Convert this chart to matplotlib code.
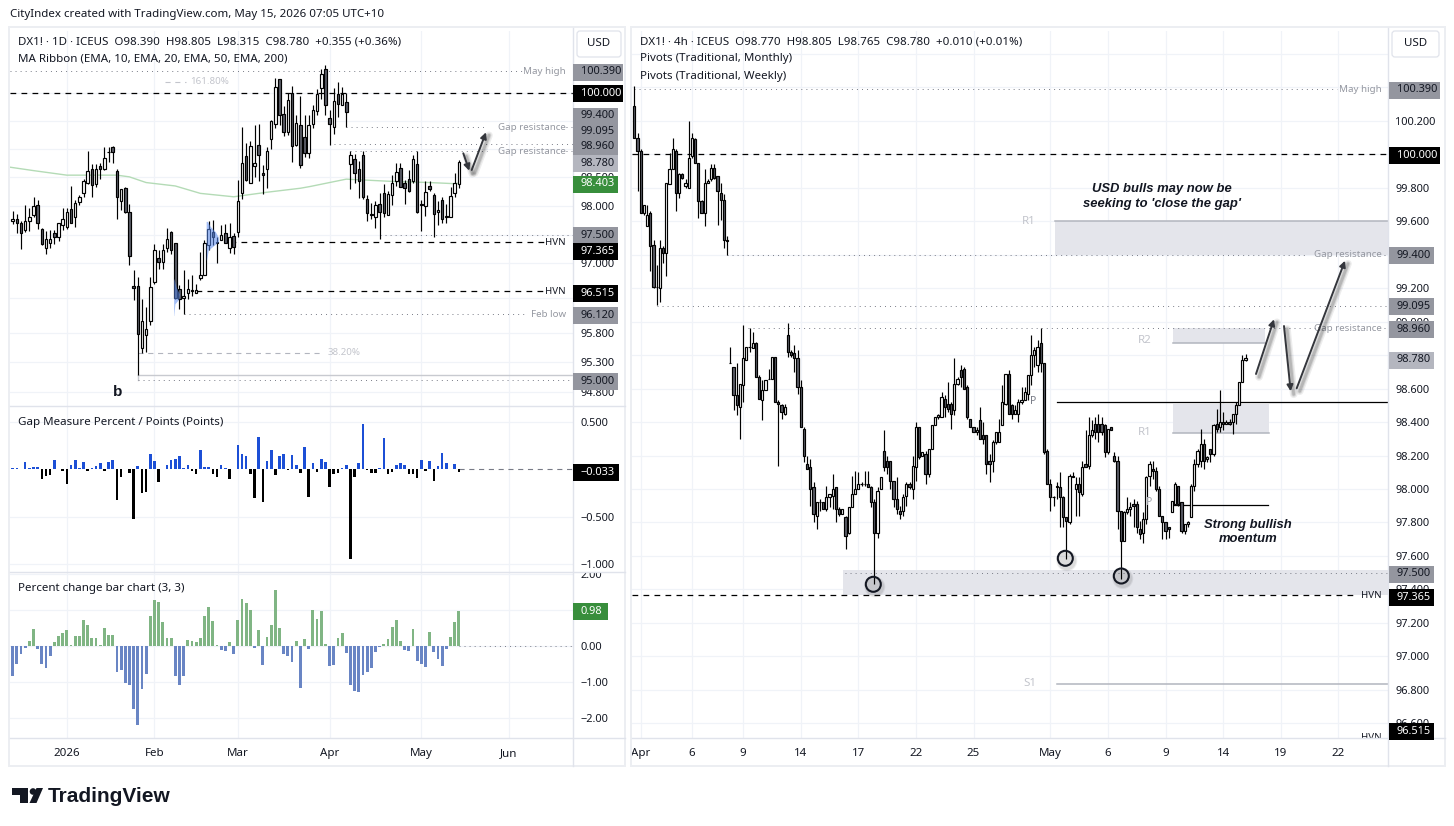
import matplotlib
matplotlib.use("Agg")
import matplotlib.pyplot as plt
import numpy as np
from matplotlib.patches import Rectangle, FancyBboxPatch, Circle, Polygon
from matplotlib.ticker import NullLocator, NullFormatter

plt.rcParams["font.family"] = ["Noto Sans", "DejaVu Sans"]

W, H = 1454, 826
TXT = "#131722"
GRID = "#f0f3f8"
BORDER = "#e0e3eb"
ANNOT = "#9598a1"
FS_LEGEND = 8.3
FS_AXIS = 7.9
FS_NOTE = 7.0

# daily candles
d_open = [97.73,97.77,97.70,97.58,97.74,97.84,98.01,97.60,97.27,97.36,
    97.52,97.46,97.67,97.64,97.94,97.80,98.06,98.23,98.41,98.64,
    98.39,98.71,98.64,98.94,99.03,98.62,98.09,98.31,97.89,96.61,
    96.61,95.54,95.76,96.01,96.67,97.10,97.03,97.26,97.54,97.35,
    96.56,96.41,96.48,96.53,96.49,96.75,96.80,97.32,97.54,97.37,
    97.41,97.52,97.26,97.48,97.55,98.23,98.88,98.41,98.71,99.07,
    98.57,98.64,99.17,99.44,100.24,99.62,99.31,100.00,99.07,99.42,
    99.22,98.93,99.44,99.68,100.08,100.43,99.55,99.40,99.98,99.79,
    99.83,98.73,98.83,98.64,98.90,98.13,97.86,97.80,98.03,98.22,
    97.85,98.19,98.44,98.66,98.40,98.47,98.43,98.73,98.03,97.99,
    98.35,98.19,97.89,98.10,97.80,97.81,98.22,98.39]
d_high = [97.91,97.86,97.74,98.02,97.96,98.16,98.10,97.61,97.57,97.58,
    97.58,97.71,97.96,97.96,98.35,98.10,98.20,98.48,98.96,98.73,
    98.73,98.76,99.03,99.03,99.05,98.64,98.30,98.34,98.03,96.89,
    96.77,96.39,96.25,96.77,97.33,97.23,97.33,97.62,97.56,97.36,
    96.63,96.89,96.73,96.79,96.65,97.19,97.41,97.73,97.76,97.46,
    97.67,97.68,97.70,97.52,98.46,99.39,99.11,99.15,99.43,99.45,
    98.72,99.03,99.51,100.26,100.25,99.76,100.00,100.13,99.60,99.94,
    99.60,99.60,99.78,100.06,100.42,100.50,99.69,100.08,100.19,100.11,
    100.00,98.97,98.92,98.79,98.97,98.19,98.05,98.09,98.22,98.38,
    98.26,98.54,98.76,98.75,98.45,98.63,98.90,98.96,98.10,98.43,
    98.43,98.22,98.08,98.16,98.03,98.34,98.57,98.805]
d_low = [97.69,97.52,97.25,97.55,97.57,97.81,97.60,97.32,97.17,97.26,
    97.34,97.39,97.58,97.60,97.70,97.64,98.01,98.16,98.38,98.16,
    98.34,98.48,98.63,98.78,98.75,97.78,97.93,97.87,96.98,96.36,
    95.08,95.46,95.48,95.93,96.64,96.91,96.91,97.20,97.17,96.39,
    96.22,96.12,96.38,96.43,96.49,96.71,96.80,97.23,97.31,97.01,
    97.41,97.36,97.18,97.17,97.46,98.13,98.43,98.40,98.50,98.44,
    98.21,98.31,99.00,99.37,99.43,99.23,99.25,98.77,99.05,98.66,
    98.86,98.85,99.37,99.60,99.89,99.60,99.08,99.26,99.57,99.79,
    99.39,98.29,98.40,98.14,98.13,97.74,97.77,97.62,97.42,97.81,
    97.84,98.02,98.35,98.33,98.03,98.25,98.41,97.87,97.57,97.83,
    98.27,97.46,97.67,97.71,97.71,97.81,98.16,98.315]
d_close = [97.77,97.70,97.52,97.73,97.81,97.99,97.70,97.34,97.42,97.43,
    97.46,97.70,97.78,97.89,97.71,98.05,98.15,98.44,98.62,98.36,
    98.65,98.64,98.85,98.95,98.94,98.16,98.29,97.90,97.13,96.58,
    95.78,96.00,95.87,96.59,97.23,97.03,97.23,97.43,97.23,96.41,
    96.39,96.44,96.56,96.54,96.54,96.79,97.35,97.59,97.46,97.36,
    97.50,97.36,97.46,97.29,98.08,98.75,98.45,99.05,98.75,98.90,
    98.55,98.96,99.50,100.10,99.60,99.31,99.87,99.05,99.46,98.72,
    98.93,99.42,99.70,99.98,100.34,99.78,99.44,99.85,99.80,99.98,
    99.66,98.90,98.57,98.43,98.15,97.88,97.84,98.02,97.89,97.87,
    98.21,98.41,98.59,98.34,98.31,98.27,98.82,97.90,98.01,98.25,
    98.29,97.86,97.93,97.77,97.83,98.17,98.41,98.78]

# 200 EMA, read at a few bars
ema_idx = [-0.6,5,13,25,28,32,39,45,53,61,69,71.3,80,91,100,106,107]
ema_val = [98.68,98.62,98.54,98.54,98.51,98.41,98.35,98.22,98.16,98.24,98.31,98.34,98.47,98.43,98.41,98.39,98.40]

gap_pts = [0.015,0.015,0.005,0.08,0.015,0.025,0.025,-0.10,-0.07,-0.055,
    0.10,0.005,-0.015,-0.15,0.05,0.10,0.015,0.08,-0.015,0.015,
    0.035,0.065,-0.015,0.08,0.10,-0.32,-0.08,0.003,-0.035,-0.52,
    0.035,-0.25,-0.235,0.16,0.09,-0.13,0.005,0.045,0.10,0.105,
    0.14,0.015,0.045,-0.015,-0.045,0.205,0.025,0.025,-0.05,-0.08,
    0.045,0.015,-0.10,0.005,0.255,0.16,0.14,-0.05,-0.30,0.34,
    -0.34,0.09,0.205,-0.055,0.14,0.16,-0.012,0.15,0.045,-0.035,
    0.235,-0.29,0.065,-0.025,0.11,0.08,-0.19,-0.045,-0.035,0.015,
    0.045,-0.945,-0.08,0.065,0.48,-0.012,-0.035,-0.035,0.015,0.33,
    -0.045,-0.025,0.045,0.065,0.045,-0.045,-0.045,-0.09,0.10,-0.015,
    0.09,-0.12,0.035,0.17,0.065,0.003,0.055,-0.033]

pct_chg = [-0.84,-0.49,-0.21,-0.05,0.15,0.48,-0.07,-0.49,-0.60,-0.26,
    0.12,0.29,0.37,0.45,0.04,0.29,0.29,0.73,0.59,0.23,
    0.23,0.04,0.51,0.31,0.31,-0.71,-0.66,-1.03,-1.07,-1.74,
    -2.18,-1.18,-0.77,0.84,1.29,1.23,0.68,0.23,0.23,-0.82,
    -1.07,-0.82,0.18,0.15,0.12,0.23,0.84,1.09,0.70,0.04,
    -0.10,-0.13,0.12,-0.21,0.73,1.31,1.20,1.01,-0.05,0.45,
    -0.52,0.26,0.59,1.56,0.51,-0.21,-0.27,-0.44,0.15,-1.16,
    0.20,-0.07,1.01,0.76,0.98,0.06,-0.55,-0.52,0.23,0.37,
    -0.19,-1.07,-1.24,-1.27,-0.80,-0.71,-0.60,-0.16,-0.02,0.06,
    0.20,0.54,0.73,0.15,-0.10,-0.13,0.48,-0.41,-0.49,-0.57,
    0.40,-0.16,-0.35,-0.55,-0.07,0.26,0.68,0.98]

# 4h candles
h_open = [100.29,100.10,100.02,99.65,99.57,99.65,99.46,99.21,99.20,99.44,
    99.41,99.82,99.91,100.02,99.77,99.88,99.81,99.80,99.99,100.09,
    99.95,99.72,99.65,99.83,99.85,99.92,99.87,99.77,99.73,99.49,
    98.75,98.73,98.56,98.49,98.62,98.77,98.85,98.84,98.87,98.67,
    98.53,98.59,98.66,98.66,98.79,98.52,98.50,98.45,98.92,98.82,
    98.81,98.78,98.61,98.36,98.15,98.13,98.01,97.84,97.92,97.92,
    97.88,97.95,97.96,98.01,97.88,97.85,97.83,97.74,97.89,97.97,
    98.00,98.03,98.03,98.03,98.01,97.92,97.74,98.00,98.23,98.17,
    98.17,98.05,97.94,97.87,97.87,97.96,98.03,98.00,98.13,98.37,
    98.20,98.21,98.09,98.24,98.38,98.43,98.43,98.54,98.51,98.51,
    98.47,98.63,98.71,98.72,98.61,98.42,98.37,98.34,98.41,98.32,
    98.32,98.17,98.17,98.28,98.28,98.38,98.51,98.69,98.50,98.45,
    98.45,98.52,98.53,98.57,98.68,98.80,98.74,98.87,98.75,98.23,
    98.03,97.95,98.02,98.01,97.95,97.83,97.80,98.08,98.00,98.03,
    97.97,98.15,98.14,98.32,98.39,98.39,98.39,98.38,98.22,98.37,
    98.20,98.17,97.87,97.69,97.86,97.88,97.91,97.91,97.76,97.74,
    97.82,98.08,98.12,98.11,98.00,97.84,97.80,97.77,97.86,97.91,
    98.02,97.92,97.75,97.79,97.83,98.02,98.15,98.17,98.27,98.18,
    98.24,98.21,98.39,98.37,98.40,98.39,98.40,98.40,98.45,98.50,
    98.64,98.77]
h_high = [100.41,100.13,100.03,99.70,99.70,99.66,99.49,99.34,99.49,99.45,
    99.83,100.01,100.10,100.03,99.89,99.89,99.85,100.20,100.13,100.10,
    99.95,99.73,99.91,99.85,99.94,99.94,99.87,99.83,99.76,99.51,
    98.85,98.73,98.75,98.63,98.98,98.85,98.96,98.94,98.88,98.68,
    98.65,98.65,98.72,98.79,98.79,98.53,98.51,98.51,98.99,98.83,
    98.86,98.83,98.65,98.37,98.20,98.18,98.04,97.92,97.94,97.92,
    98.02,97.97,98.09,98.01,97.89,97.88,97.84,97.89,98.08,98.11,
    98.10,98.04,98.11,98.11,98.02,97.94,98.01,98.07,98.35,98.20,
    98.17,98.05,98.07,97.90,97.97,98.04,98.04,98.20,98.40,98.37,
    98.22,98.23,98.24,98.38,98.43,98.45,98.58,98.56,98.64,98.52,
    98.78,98.67,98.74,98.73,98.62,98.42,98.37,98.37,98.49,98.40,
    98.32,98.21,98.29,98.34,98.42,98.62,98.69,98.71,98.51,98.50,
    98.54,98.61,98.61,98.68,98.92,98.85,98.89,98.96,98.75,98.24,
    98.06,97.96,98.04,98.10,97.96,97.83,98.09,98.10,98.07,98.07,
    98.17,98.35,98.43,98.41,98.43,98.45,98.43,98.39,98.36,98.37,
    98.22,98.20,97.87,97.87,97.95,97.92,97.94,97.93,97.81,97.86,
    98.08,98.17,98.17,98.13,98.02,97.84,97.80,97.77,97.93,98.04,
    98.02,97.92,97.79,97.81,98.03,98.18,98.24,98.36,98.30,98.20,
    98.24,98.39,98.48,98.59,98.46,98.41,98.42,98.45,98.52,98.64,
    98.80,98.805]
h_low = [100.10,99.78,99.65,99.64,99.57,99.30,99.20,99.10,99.12,99.35,
    99.27,99.82,99.91,99.66,99.74,99.85,99.80,99.80,99.98,99.95,
    99.62,99.65,99.57,99.83,99.84,99.85,99.58,99.61,99.44,99.40,
    98.75,98.47,98.44,98.30,98.52,98.77,98.82,98.84,98.67,98.54,
    98.41,98.59,98.66,98.66,98.52,98.14,98.42,98.44,98.79,98.79,
    98.70,98.57,98.37,98.16,98.12,97.90,97.80,97.76,97.87,97.88,
    97.87,97.89,97.88,97.80,97.84,97.85,97.64,97.73,97.89,97.97,
    98.00,98.02,98.02,98.01,97.89,97.43,97.71,98.00,98.11,98.09,
    98.00,97.89,97.85,97.82,97.84,97.90,98.00,97.94,98.05,98.18,
    98.20,98.03,98.07,98.24,98.38,98.42,98.43,98.43,98.46,98.36,
    98.44,98.62,98.61,98.60,98.42,98.37,98.34,98.32,98.30,98.27,
    98.09,98.04,98.10,98.27,98.28,98.38,98.50,98.45,98.42,98.45,
    98.40,98.51,98.53,98.53,98.62,98.73,98.70,98.70,98.21,98.03,
    97.87,97.90,97.94,97.77,97.77,97.58,97.79,98.07,97.84,97.84,
    97.96,98.13,98.12,98.31,98.30,98.28,98.32,98.19,98.21,98.35,
    98.16,97.76,97.46,97.69,97.85,97.84,97.77,97.74,97.70,97.68,
    97.79,98.02,98.06,97.99,97.84,97.70,97.70,97.71,97.86,97.91,
    97.90,97.74,97.73,97.77,97.83,97.99,98.13,98.13,98.12,98.16,
    98.16,98.20,98.34,98.34,98.35,98.39,98.38,98.33,98.39,98.50,
    98.64,98.765]
h_close = [100.10,100.02,99.65,99.70,99.64,99.45,99.21,99.21,99.44,99.41,
    99.83,99.91,100.03,99.77,99.88,99.86,99.83,99.98,100.10,99.95,
    99.72,99.65,99.83,99.84,99.92,99.86,99.78,99.73,99.49,99.48,
    98.75,98.56,98.50,98.63,98.78,98.85,98.85,98.87,98.67,98.54,
    98.59,98.65,98.66,98.79,98.52,98.51,98.46,98.49,98.82,98.80,
    98.78,98.61,98.37,98.20,98.12,98.00,97.85,97.92,97.92,97.88,
    97.95,97.97,98.00,97.88,97.85,97.88,97.72,97.89,97.97,98.00,
    98.03,98.03,98.03,98.01,97.92,97.74,97.99,98.07,98.13,98.13,
    98.05,97.94,97.88,97.85,97.95,98.03,98.01,98.14,98.37,98.19,
    98.22,98.09,98.24,98.38,98.43,98.44,98.55,98.49,98.48,98.45,
    98.63,98.66,98.67,98.60,98.43,98.37,98.34,98.35,98.30,98.30,
    98.15,98.15,98.28,98.34,98.34,98.52,98.69,98.45,98.45,98.47,
    98.52,98.53,98.58,98.68,98.80,98.83,98.85,98.75,98.22,98.03,
    97.95,97.95,98.01,97.95,97.83,97.81,98.08,98.07,98.03,97.98,
    98.13,98.13,98.32,98.35,98.34,98.34,98.34,98.22,98.36,98.35,
    98.17,97.87,97.69,97.86,97.88,97.89,97.90,97.77,97.73,97.82,
    98.07,98.15,98.11,98.00,97.84,97.80,97.75,97.76,97.93,98.03,
    97.91,97.75,97.79,97.80,98.02,98.15,98.23,98.27,98.17,98.19,
    98.21,98.38,98.36,98.40,98.39,98.40,98.39,98.45,98.50,98.64,
    98.77,98.78]

# volume profile blobs on the daily chart
vp1_price = [96.73,96.59,96.47,96.38,96.30,96.10]
vp1_width = [0.1,0.6,1.4,1.2,0.3,0.05]
vp2_price = [97.73,97.64,97.55,97.46,97.38,97.32,97.23,97.06]
vp2_width = [0.3,1.0,2.2,2.9,3.0,2.0,0.5,0.1]

# axis ticks, labels left blank sit fully under a price tag
d_ticks = [100.0,99.5,99.0,98.5,98.0,97.5,97.0,96.4,95.8,95.3,94.8]
d_tick_labels = ["","","","98.500","98.000","","97.000","96.400","95.800","95.300","94.800"]
gap_ticks = [0.5,-0.5,-1.0]
gap_labels = ["0.500","\u22120.500","\u22121.000"]
pct_ticks = [2,1,0,-1,-2]
pct_labels = ["2.00","","0.00","\u22121.00","\u22122.00"]
h_ticks = [100.6,100.4,100.2,100.0,99.8,99.6,99.4,99.2,99.0,98.8,98.6,98.4,98.2,98.0,97.8,97.6,97.4,97.2,97.0,96.8,96.6]
h_tick_labels = ["","","100.200","","99.800","99.600","","99.200","99.000","","98.600","98.400","98.200","98.000","97.800","97.600","97.400","97.200","97.000","96.800","96.600"]
d_month_pos = [13,34,54,76,98,119]
d_month_lab = ["2026","Feb","Mar","Apr","May","Jun"]
h_date_pos = [2,18,34,52,70,88,106,130,148,166,184,202,220]
h_date_lab = ["Apr","6","9","14","17","22","25","May","6","9","14","19","22"]


def make_ax(x0, x1, y0, y1):
    ax = fig.add_axes([x0 / W, 1 - y1 / H, (x1 - x0) / W, (y1 - y0) / H])
    for s in ax.spines.values():
        s.set_visible(False)
    ax.set_axisbelow(True)
    ax.grid(True, color=GRID, lw=0.9)
    ax.yaxis.tick_right()
    ax.tick_params(length=0, labelsize=FS_AXIS, labelcolor=TXT, pad=5)
    ax.tick_params(axis="y", pad=5.2)
    return ax


def candles(ax, o, h, l, c, width):
    x = np.arange(len(o))
    o, h, l, c = map(np.array, (o, h, l, c))
    ax.vlines(x, l, h, color="black", lw=0.85, zorder=3)
    up = c >= o
    ax.bar(x[up], (c - o)[up], bottom=o[up], width=width, color="white", edgecolor="black", lw=0.85, zorder=4)
    ax.bar(x[~up], (c - o)[~up], bottom=o[~up], width=width, color="#5b5d67", edgecolor="black", lw=0.85, zorder=4)


def dashed(ax, x0, x1, p, color="black", lw=0.9):
    ax.plot([x0, x1], [p, p], color=color, lw=lw, ls=(0, (4.6, 4.2)), zorder=2)


def dotted(ax, x0, x1, p, color="#787b86"):
    ax.plot([x0, x1], [p, p], color=color, lw=0.7, ls=(0, (1, 4.2)), zorder=2)


def tag(x0, y, label, bg, fg, w=46):
    ov.add_patch(Rectangle((x0, y - 8.5), w, 17, color=bg, lw=0, zorder=5))
    ov.text(x0 + 7.5, y, label, color=fg, fontsize=FS_AXIS, ha="left", va="center", zorder=6)


def arrow(x0, y0, x1, y1):
    for lw, a in [(5.5, 0.07), (3.5, 0.1), (2, 0.14)]:
        ov.plot([x0 + 3, x1 + 3], [y0 + 3, y1 + 3], color="black", lw=lw, alpha=a, solid_capstyle="round", zorder=3)
    ov.annotate("", xy=(x1, y1), xytext=(x0, y0),
                arrowprops=dict(arrowstyle="-|>", color="#34363c", lw=1.4, mutation_scale=9, shrinkA=0, shrinkB=0), zorder=4)


def ring(x, y):
    for r, a in [(10.5, 0.06), (9.5, 0.08)]:
        ov.add_patch(Circle((x + 1.5, y + 2.5), r, color="black", alpha=a, lw=0, zorder=3))
    ov.add_patch(Circle((x, y), 7.5, fill=False, edgecolor="#131722", lw=1.5, zorder=4))


lx = lambda px: (px - 12.67) / 4.17
rx = lambda px: (px - 634.3) / 3.2

fig = plt.figure(figsize=(W / 100, H / 100), dpi=100, facecolor="white")

# overlay in pixels for price tags, frames and drawings
ov = fig.add_axes([0, 0, 1, 1], zorder=10)
ov.set_xlim(0, W)
ov.set_ylim(H, 0)
ov.axis("off")
ov.patch.set_alpha(0)

# ---- left chart: price pane
a1 = make_ax(10, 573, 31, 406)
a1.set_yscale("log")
a1.set_xlim(lx(10), lx(573))
a1.set_ylim(94.56, 101.11)
a1.yaxis.set_minor_locator(NullLocator())
a1.yaxis.set_minor_formatter(NullFormatter())
a1.set_yticks(d_ticks, d_tick_labels, ha="left")
a1.set_xticks(d_month_pos, [""] * len(d_month_pos))

dotted(a1, lx(10), lx(522), 100.39)
dashed(a1, lx(10), lx(573), 100.0)
dotted(a1, 80, lx(486), 99.39)
dotted(a1, lx(566), lx(573), 99.39)
dotted(a1, 77, lx(573), 99.095)
dotted(a1, 81, lx(487), 98.96)
dotted(a1, lx(566), lx(573), 98.96)
dotted(a1, 88, lx(573), 97.5)
dashed(a1, 52, lx(547), 97.365)
dashed(a1, 44, lx(547), 96.515)
dotted(a1, 41, lx(524), 96.12)
dashed(a1, 30, lx(322), 95.46, color="#b2b5be", lw=0.8)
dashed(a1, lx(165), lx(186), 100.2, color="#c3c5cc", lw=0.8)
a1.plot([30, lx(573)], [95.08, 95.08], color="#c8cad0", lw=1.0, zorder=2)
a1.plot([30, 30], [95.0, 95.08], color="#c8cad0", lw=1.0, zorder=2)
dotted(a1, 30, lx(573), 95.0)
a1.plot(ema_idx, ema_val, color="#b4dbb6", lw=1.0, zorder=2)
candles(a1, d_open, d_high, d_low, d_close, 0.6)
a1.fill_betweenx(vp1_price, 38.6, 38.6 + np.array(vp1_width), color="#5b8cf0", alpha=0.55, lw=0, zorder=5)
a1.fill_betweenx(vp2_price, 46.4, 46.4 + np.array(vp2_width), color="#5b8cf0", alpha=0.55, lw=0, zorder=5)

for p, s, c in [(100.39, "May high", ANNOT), (99.39, "Gap resistance", ANNOT), (98.96, "Gap resistance", ANNOT),
                (97.365, "HVN", TXT), (96.515, "HVN", TXT), (96.12, "Feb low", ANNOT)]:
    a1.text(lx(566), p, s, color=c, fontsize=FS_NOTE, ha="right", va="center", zorder=6)
a1.text(lx(328), 95.46, "38.20%", color="#c3c5cc", fontsize=FS_NOTE, va="center")
a1.text(lx(190), 100.2, "161.80%", color="#c3c5cc", fontsize=FS_NOTE, va="center")
a1.text(lx(118), 94.80, "b", color=TXT, family="Liberation Sans", fontsize=11, fontweight="bold", ha="center", va="center")

# ---- left chart: gap pane
a2 = make_ax(10, 573, 406, 572)
a2.set_xlim(lx(10), lx(573))
a2.set_ylim(-1.084, 0.668)
gap = np.array(gap_pts)
a2.bar(np.arange(len(gap)), gap, width=0.62, color=np.where(gap >= 0, "#1c4fd6", "black"), lw=0, zorder=3)
dashed(a2, 107, lx(573), 0.0, color="#787b86", lw=0.8)
a2.set_yticks(gap_ticks, gap_labels, ha="left")
a2.set_xticks(d_month_pos, [""] * len(d_month_pos))

# ---- left chart: percent change pane
a3 = make_ax(10, 573, 572, 738)
a3.set_xlim(lx(10), lx(573))
a3.set_ylim(-2.55, 2.06)
pct = np.array(pct_chg)
a3.bar(np.arange(len(pct)), pct, width=0.68, color=np.where(pct >= 0, "#80b584", "#6985c4"), lw=0, zorder=3)
dotted(a3, 107, lx(573), 0.0)
a3.set_yticks(pct_ticks, pct_labels, ha="left")
a3.set_xticks(d_month_pos, d_month_lab)
a3.tick_params(axis="x", pad=7.5, labelsize=FS_LEGEND)

# ---- right chart
b1 = make_ax(632, 1388, 31, 738)
b1.set_xlim(rx(632), rx(1388))
b1.set_ylim(96.512, 100.737)
b1.set_yticks(h_ticks, h_tick_labels, ha="left")
b1.set_xticks(h_date_pos, h_date_lab)
b1.tick_params(axis="x", pad=7.5, labelsize=FS_LEGEND)

# pivot zones
b1.fill_between([rx(1055), rx(1388)], 99.4, 99.6, color="#e4e5eb", lw=0, zorder=1)
b1.plot([rx(1055), rx(1388)], [99.6, 99.6], color="#b2b5be", lw=1.1, zorder=2)
b1.fill_between([rx(1173), rx(1265)], 98.875, 98.96, color="#e4e5eb", lw=0, zorder=1)
b1.plot([rx(1173), rx(1265)], [98.875, 98.875], color="#b2b5be", lw=1.1, zorder=2)
b1.fill_between([rx(1173), rx(1269)], 98.335, 98.51, color="#e4e5eb", lw=0, zorder=1)
b1.plot([rx(1173), rx(1269)], [98.335, 98.335], color="#b2b5be", lw=1.1, zorder=2)
b1.fill_between([rx(843), rx(1388)], 97.365, 97.516, color="#e4e5eb", lw=0, zorder=1)
b1.plot([rx(1057), rx(1388)], [98.517, 98.517], color="black", lw=0.9, zorder=2)
b1.plot([rx(1173), rx(1268)], [97.905, 97.905], color="black", lw=0.9, zorder=2)
b1.plot([rx(1057), rx(1388)], [96.837, 96.837], color="#b2b5be", lw=1.1, zorder=2)

dotted(b1, rx(634), rx(1337), 100.39)
dashed(b1, rx(632), rx(1388), 100.0)
dotted(b1, 29, rx(1308), 99.4)
dotted(b1, rx(1384), rx(1388), 99.4)
dotted(b1, rx(657), rx(1388), 99.095)
dotted(b1, rx(748), rx(1316), 98.96)
dotted(b1, rx(1384), rx(1388), 98.96)
dotted(b1, rx(845), rx(1388), 97.5)
dashed(b1, rx(632), rx(1358), 97.365)
candles(b1, h_open, h_high, h_low, h_close, 0.66)

for p, s, c in [(100.39, "May high", ANNOT), (99.4, "Gap resistance", ANNOT), (98.96, "Gap resistance", ANNOT),
                (97.365, "HVN", TXT), (96.515, "HVN", TXT)]:
    b1.text(rx(1382), p, s, color=c, fontsize=FS_NOTE, ha="right", va="center", zorder=6, clip_on=True)
for p, px, s in [(99.6, 1029, "R1"), (98.89, 1145, "R2"), (98.34, 1145, "R1"), (96.84, 1030, "S1")]:
    b1.text(rx(px), p, s, color="#c3c5cc", fontsize=FS_LEGEND, ha="center", va="center", zorder=6)
b1.text(rx(1033), 98.52, "P", color="#787b86", fontsize=7.5, ha="center", va="center", zorder=6)
b1.text(rx(1149), 97.92, "P", color="#a0a3ab", fontsize=7.5, ha="center", va="center", zorder=6)

# ---- frames
for x0, x1 in [(9, 625), (631, 1445)]:
    ov.add_patch(Rectangle((x0, 27), x1 - x0, 739, fill=False, edgecolor="#eceef2", lw=1.4, zorder=1))
ov.add_patch(Rectangle((574, 569.5), 50, 2.5, color="white", lw=0, zorder=2))
for y in [406, 572, 738]:
    ov.plot([10, 625], [y, y], color=BORDER, lw=1.0, zorder=2)
ov.plot([573, 573], [28, 766], color=BORDER, lw=1.0, zorder=2)
ov.plot([1388, 1388], [28, 766], color=BORDER, lw=1.0, zorder=2)
ov.plot([632, 1445], [738, 738], color=BORDER, lw=1.0, zorder=2)

# ---- price tags
GREY = "#94969f"
LIGHT = "#b4b6bf"
for y, s, bg, fg, w in [(72, "100.390", GREY, TXT, 50), (93, "100.000", "black", "white", 50),
                        (116, "99.400", GREY, TXT, 45), (131.5, "99.095", GREY, TXT, 45), (146.5, "98.960", GREY, TXT, 45),
                        (163, "98.780", LIGHT, TXT, 45), (184, "98.403", "#388e3c", "white", 45),
                        (235.5, "97.500", GREY, TXT, 45), (251.5, "97.365", "black", "white", 45),
                        (293, "96.515", "black", "white", 45), (315.5, "96.120", GREY, TXT, 45),
                        (381.5, "95.000", GREY, TXT, 45)]:
    tag(573, y, s, bg, fg, w)
tag(573, 472.7, "\u22120.033", "black", "white", 46)
tag(573, 611.7, "0.98", "#388e3c", "white", 35)
for y, s, bg, fg, w in [(90, "100.390", GREY, TXT, 51), (155, "100.000", "black", "white", 51),
                        (255.7, "99.400", GREY, TXT, 45), (306.7, "99.095", GREY, TXT, 45), (329, "98.960", GREY, TXT, 45),
                        (360, "98.780", LIGHT, TXT, 45), (574, "97.500", GREY, TXT, 45),
                        (597, "97.365", "black", "white", 45), (731, "96.515", "black", "white", 45)]:
    tag(1389, y, s, bg, fg, w)

# USD buttons
for x0, x1 in [(577, 621), (1392, 1439)]:
    ov.add_patch(FancyBboxPatch((x0 + 3, 34), x1 - x0 - 6, 20, boxstyle="round,pad=3", facecolor="white",
                                edgecolor=BORDER, lw=0.9, zorder=5))
    ov.text((x0 + x1) / 2, 44, "USD", color=TXT, fontsize=FS_LEGEND, ha="center", va="center", zorder=6)

# ---- header and legends
ov.text(10, 15, "CityIndex created with TradingView.com, May 15, 2026 07:05 UTC+10", color=TXT, fontsize=FS_LEGEND, va="center")
ov.text(18, 42, "DX1! \u00b7 1D \u00b7 ICEUS  O98.390  H98.805  L98.315  C98.780  +0.355 (+0.36%)", color=TXT, fontsize=FS_LEGEND, va="center")
ov.text(18, 59, "MA Ribbon (EMA, 10, EMA, 20, EMA, 50, EMA, 200)", color=TXT, fontsize=FS_LEGEND, va="center")
ov.text(18, 422, "Gap Measure Percent / Points (Points)", color=TXT, fontsize=FS_LEGEND, va="center")
ov.text(18, 588, "Percent change bar chart (3, 3)", color=TXT, fontsize=FS_LEGEND, va="center")
ov.text(640, 42, "DX1! \u00b7 4h \u00b7 ICEUS  O98.770  H98.805  L98.765  C98.780  +0.010 (+0.01%)", color=TXT, fontsize=FS_LEGEND, va="center")
ov.text(640, 59, "Pivots (Traditional, Monthly)", color=TXT, fontsize=FS_LEGEND, va="center")
ov.text(640, 76, "Pivots (Traditional, Weekly)", color=TXT, fontsize=FS_LEGEND, va="center")

# ---- drawings
for pts in [(463.3, 153.3, 469.3, 170.7), (471.7, 170, 486, 132.3),
            (1256, 374, 1274, 319.3), (1284, 326, 1290.7, 391.3), (1296.7, 388.3, 1345, 260.7)]:
    arrow(*pts)
ring(873.3, 584.3)
ring(1065.3, 558.3)
ring(1121.3, 576)
ov.text(1161.7, 196.5, "USD bulls may now be\nseeking to 'close the gap'", family="Liberation Sans", fontsize=9.4,
        fontweight="bold", fontstyle="italic", color=TXT, ha="center", va="center", linespacing=1.3, zorder=6)
ov.text(1248, 532, "Strong bullish\nmoentum", family="Liberation Sans", fontsize=9.4,
        fontweight="bold", fontstyle="italic", color=TXT, ha="center", va="center", linespacing=1.3, zorder=6)

# ---- logo
ov.add_patch(Polygon([(12, 788), (28, 788), (28, 803), (20, 803), (20, 795), (12, 795)], color="#131722", lw=0))
ov.add_patch(Circle((33, 791.5), 3.3, color="#131722", lw=0))
ov.add_patch(Polygon([(36.5, 788), (43, 788), (36.5, 803), (29.5, 803)], color="#131722", lw=0))
ov.text(48, 796, "TradingView", color="#131722", family="Liberation Sans", fontsize=15, fontweight="bold", va="center")

fig.savefig("out.png", dpi=100)
